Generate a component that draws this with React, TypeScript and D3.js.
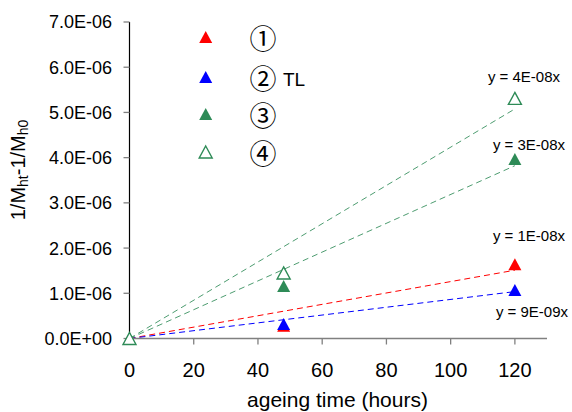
import React from "react";
import * as d3 from "d3";

const hours = [0, 48, 120];
const series1 = [0, 0.28e-6, 1.64e-6];
const series2 = [0, 0.32e-6, 1.075e-6];
const series3 = [0, 1.16e-6, 3.97e-6];
const series4 = [0, 1.45e-6, 5.31e-6];
const legendLabels = ["①", "②", "③", "④"];
const legendExtra = ["", "TL", "", ""];
const trendLabels = ["y = 1E-08x", "y = 9E-09x", "y = 3E-08x", "y = 4E-08x"];
const yTicks = [0, 1e-6, 2e-6, 3e-6, 4e-6, 5e-6, 6e-6, 7e-6];
const yTickLabels = ["0.0E+00", "1.0E-06", "2.0E-06", "3.0E-06", "4.0E-06", "5.0E-06", "6.0E-06", "7.0E-06"];
const xTicks = [0, 20, 40, 60, 80, 100, 120];

const colors = ["#ff0000", "#0000ff", "#2e8b57", "#2e8b57"];
const filled = [true, true, true, false];
const labelOffsets = [
  [-22, -23],
  [-19, 27],
  [-22, -9],
  [-27, -16],
];

const W = 572;
const H = 412;
const FONT = "'Liberation Sans', Arial, sans-serif";

function tri(cx: number, cy: number, w = 13, h = 12) {
  return `M${cx},${cy - h / 2}L${cx + w / 2},${cy + h / 2}L${cx - w / 2},${cy + h / 2}Z`;
}

export default function App() {
  const x = d3.scaleLinear().domain([0, 130]).range([129.5, 547]);
  const y = d3.scaleLinear().domain([0, 7e-6]).range([338.5, 22]);
  const all = [series1, series2, series3, series4];
  const slopes = all.map((s) => {
    const sxy = d3.sum(hours, (h, i) => h * s[i]);
    const sxx = d3.sum(hours, (h) => h * h);
    return sxy / sxx;
  });
  const legendY = [37, 77, 114, 152];
  const order = [0, 1, 2, 3];

  return (
    <svg width={W} height={H} style={{ position: "absolute", left: 0, top: 0, background: "#fff" }}>
      {/* trend lines */}
      {order.map((i) => (
        <path
          key={"t" + i}
          d={
            d3
              .line<number>()
              .x((d) => x(d))
              .y((d) => y(d * slopes[i]))([0, 120]) || ""
          }
          stroke={colors[i]}
          strokeWidth={1}
          strokeDasharray="6,4"
          fill="none"
          opacity={i >= 2 ? 0.85 : 1}
        />
      ))}
      {/* axes */}
      <line x1={x(0)} x2={x(130)} y1={y(0)} y2={y(0)} stroke="#808080" strokeWidth={1.3} />
      {xTicks.map((t) => (
        <g key={"xt" + t}>
          <line x1={x(t)} x2={x(t)} y1={y(0)} y2={y(0) + 6} stroke="#808080" strokeWidth={1.3} />
          <text x={x(t)} y={377} fontFamily={FONT} fontSize={20} textAnchor="middle" fill="#000">
            {t}
          </text>
        </g>
      ))}
      <line x1={x(0)} x2={x(0)} y1={y(7e-6)} y2={y(0)} stroke="#000" strokeWidth={1.2} />
      {yTicks.map((t, i) => (
        <g key={"yt" + i}>
          <line x1={x(0) - 6} x2={x(0)} y1={y(t)} y2={y(t)} stroke="#808080" strokeWidth={1.3} />
          <text x={112} y={y(t)} dy="0.36em" fontFamily={FONT} fontSize={18} textAnchor="end" fill="#000">
            {yTickLabels[i]}
          </text>
        </g>
      ))}
      <text x={337.5} y={407} fontFamily={FONT} fontSize={21} textAnchor="middle" fill="#000">
        ageing time (hours)
      </text>
      <text transform="translate(25,170) rotate(-90)" fontFamily={FONT} fontSize={20} textAnchor="middle" fill="#000">
        1/M
        <tspan fontSize={14} dy={3}>ht</tspan>
        <tspan dy={-3}>-1/M</tspan>
        <tspan fontSize={14} dy={3}>h0</tspan>
      </text>
      {/* markers */}
      {order.map((i) =>
        hours.map((h, j) => (
          <path
            key={"m" + i + "-" + j}
            d={tri(x(h), y(all[i][j]))}
            fill={filled[i] ? colors[i] : "#fff"}
            stroke={colors[i]}
            strokeWidth={filled[i] ? 0 : 1.4}
          />
        ))
      )}
      {/* trend labels */}
      {order.map((i) => (
        <text
          key={"tl" + i}
          x={x(120) + labelOffsets[i][0]}
          y={y(all[i][2]) + labelOffsets[i][1]}
          fontFamily={FONT}
          fontSize={15}
          fill="#000"
        >
          {trendLabels[i]}
        </text>
      ))}
      {/* legend */}
      {order.map((i) => (
        <g key={"lg" + i}>
          <path
            d={tri(205.7, legendY[i])}
            fill={filled[i] ? colors[i] : "#fff"}
            stroke={colors[i]}
            strokeWidth={filled[i] ? 0 : 1.4}
          />
          <text
            x={263}
            y={legendY[i] + 2}
            dy="0.36em"
            fontFamily="'DejaVu Serif', 'Noto Sans CJK JP', serif"
            fontSize={27}
            textAnchor="middle"
            fill="#000"
          >
            {legendLabels[i]}
          </text>
          {legendExtra[i] && (
            <text x={283} y={86} fontFamily={FONT} fontSize={19} fill="#000">
              {legendExtra[i]}
            </text>
          )}
        </g>
      ))}
    </svg>
  );
}
